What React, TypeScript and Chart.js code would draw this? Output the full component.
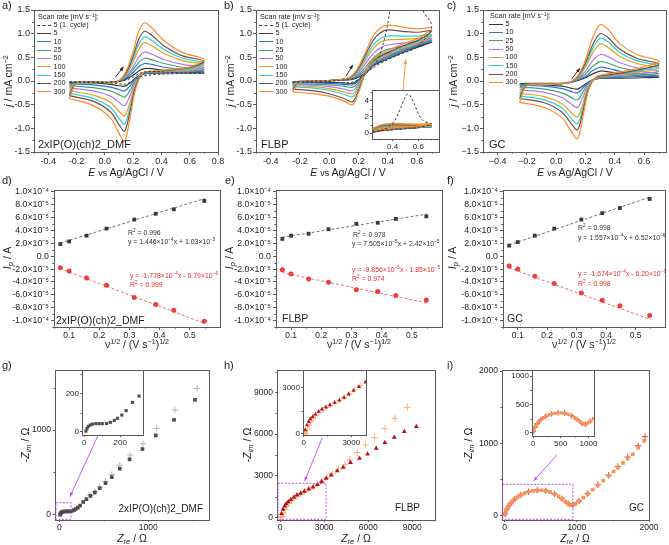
import React, { useEffect, useRef } from "react";
import { Chart, registerables } from "chart.js";

Chart.register(...registerables);

const FONT = "'Liberation Sans', Arial, Helvetica, sans-serif";
const AXIS = "#5a5a5a";
const TXT = "#1e1e1e";
const RED = "#ee2b2b";
const MAGENTA = "#c04cf0";
const PAD_T = 8;
const PAD_R = 14;

// ---------------- CV data (rows: 5,10,25,50,100,150,200,300 mV/s) ----------------
const RATES = ["5", "10", "25", "50", "100", "150", "200", "300"];
const CV_COLORS = ["#3a3a3a", "#2d6fd6", "#3aa86e", "#b676ee", "#dfa21c", "#2fd0d0", "#6f4d50", "#ff8a2a"];

const aFwdE = [-0.25, -0.2, -0.05, 0.05, 0.1, 0.15, 0.2, 0.24, 0.28, 0.33, 0.42, 0.55, 0.7];
const aRevE = [0.6, 0.45, 0.33, 0.27, 0.22, 0.18, 0.14, 0.1, 0.04, -0.08, -0.25];
const aFwdJ = [
  [-0.03, -0.03, -0.03, -0.03, -0.01, 0.04, 0.12, 0.21, 0.26, 0.26, 0.22, 0.19, 0.17],
  [-0.06, -0.03, -0.03, -0.03, 0.0, 0.06, 0.18, 0.3, 0.37, 0.35, 0.29, 0.24, 0.21],
  [-0.1, -0.03, -0.03, -0.03, 0.0, 0.08, 0.24, 0.39, 0.48, 0.45, 0.37, 0.29, 0.25],
  [-0.15, -0.04, -0.03, -0.03, 0.0, 0.1, 0.3, 0.5, 0.61, 0.57, 0.45, 0.35, 0.29],
  [-0.21, -0.04, -0.03, -0.03, 0.0, 0.13, 0.4, 0.67, 0.81, 0.75, 0.58, 0.43, 0.34],
  [-0.26, -0.05, -0.03, -0.03, 0.0, 0.15, 0.46, 0.78, 0.93, 0.86, 0.66, 0.48, 0.38],
  [-0.31, -0.05, -0.03, -0.03, 0.0, 0.17, 0.52, 0.88, 1.05, 0.97, 0.74, 0.53, 0.42],
  [-0.37, -0.06, -0.03, -0.03, 0.0, 0.2, 0.62, 1.05, 1.23, 1.13, 0.85, 0.6, 0.46],
];
const aRevJ = [
  [0.17, 0.17, 0.16, 0.14, 0.07, -0.04, -0.11, -0.1, -0.07, -0.04, -0.03],
  [0.19, 0.18, 0.17, 0.15, 0.06, -0.1, -0.21, -0.18, -0.13, -0.08, -0.06],
  [0.2, 0.19, 0.18, 0.16, 0.03, -0.19, -0.34, -0.29, -0.21, -0.14, -0.1],
  [0.22, 0.2, 0.19, 0.17, 0.0, -0.3, -0.52, -0.45, -0.32, -0.21, -0.15],
  [0.24, 0.21, 0.19, 0.17, -0.05, -0.43, -0.74, -0.64, -0.45, -0.3, -0.21],
  [0.26, 0.22, 0.2, 0.17, -0.08, -0.53, -0.91, -0.79, -0.56, -0.37, -0.26],
  [0.28, 0.23, 0.2, 0.17, -0.1, -0.62, -1.06, -0.92, -0.65, -0.43, -0.31],
  [0.3, 0.24, 0.21, 0.17, -0.15, -0.75, -1.27, -1.1, -0.78, -0.52, -0.37],
];
const aCycle1Fwd = [-0.02, -0.02, -0.02, -0.02, -0.01, 0.02, 0.08, 0.15, 0.19, 0.2, 0.19, 0.17, 0.16];
const aCycle1Rev = [0.16, 0.15, 0.13, 0.1, 0.05, -0.02, -0.07, -0.06, -0.04, -0.03, -0.02];

const bFwdE = [-0.25, -0.2, -0.05, 0.08, 0.15, 0.2, 0.25, 0.3, 0.35, 0.4, 0.5, 0.6, 0.7];
const bRevE = [0.62, 0.5, 0.4, 0.3, 0.25, 0.2, 0.16, 0.1, 0.0, -0.1, -0.25];
const bFwdJ = [
  [-0.03, -0.01, 0.0, 0.02, 0.03, 0.08, 0.18, 0.32, 0.44, 0.54, 0.64, 0.73, 0.82],
  [-0.04, -0.01, 0.0, 0.02, 0.04, 0.11, 0.24, 0.4, 0.52, 0.6, 0.68, 0.76, 0.85],
  [-0.06, -0.01, 0.0, 0.03, 0.05, 0.14, 0.3, 0.48, 0.6, 0.67, 0.73, 0.8, 0.87],
  [-0.08, -0.01, 0.0, 0.03, 0.06, 0.18, 0.38, 0.58, 0.7, 0.76, 0.8, 0.84, 0.9],
  [-0.1, -0.02, 0.0, 0.03, 0.07, 0.21, 0.45, 0.68, 0.82, 0.87, 0.88, 0.9, 0.95],
  [-0.12, -0.02, 0.0, 0.03, 0.08, 0.24, 0.5, 0.76, 0.9, 0.95, 0.95, 0.95, 0.98],
  [-0.17, -0.03, 0.0, 0.03, 0.09, 0.27, 0.56, 0.86, 1.02, 1.08, 1.05, 1.03, 1.06],
  [-0.23, -0.03, 0.0, 0.03, 0.1, 0.3, 0.62, 0.95, 1.12, 1.18, 1.14, 1.1, 1.12],
];
const bRevJ = [
  [0.73, 0.6, 0.47, 0.32, 0.17, 0.02, -0.05, -0.04, -0.03, -0.03, -0.03],
  [0.76, 0.63, 0.5, 0.34, 0.18, 0.0, -0.08, -0.07, -0.05, -0.04, -0.04],
  [0.78, 0.65, 0.52, 0.36, 0.19, -0.03, -0.13, -0.11, -0.08, -0.07, -0.06],
  [0.8, 0.67, 0.54, 0.38, 0.2, -0.06, -0.2, -0.17, -0.12, -0.09, -0.08],
  [0.83, 0.7, 0.56, 0.4, 0.2, -0.1, -0.27, -0.23, -0.16, -0.12, -0.1],
  [0.85, 0.72, 0.58, 0.41, 0.2, -0.14, -0.33, -0.28, -0.2, -0.15, -0.12],
  [0.88, 0.74, 0.6, 0.43, 0.2, -0.2, -0.44, -0.37, -0.27, -0.21, -0.17],
  [0.92, 0.78, 0.64, 0.46, 0.2, -0.25, -0.5, -0.42, -0.32, -0.27, -0.23],
];
const bCycle1E = [-0.25, -0.05, 0.1, 0.2, 0.28, 0.33, 0.37, 0.41, 0.45, 0.49, 0.52, 0.56, 0.6, 0.64, 0.7, 0.6, 0.5, 0.4, 0.3, 0.22, 0.15, 0.0, -0.25];
const bCycle1J = [-0.02, 0.0, 0.02, 0.08, 0.25, 0.45, 0.8, 1.4, 2.6, 4.2, 4.8, 3.9, 2.4, 1.5, 1.15, 0.72, 0.58, 0.45, 0.28, 0.08, -0.03, -0.02, -0.02];

const cFwdE = [-0.25, -0.2, -0.05, 0.05, 0.1, 0.15, 0.2, 0.25, 0.3, 0.35, 0.43, 0.55, 0.7];
const cRevE = [0.6, 0.45, 0.33, 0.27, 0.22, 0.18, 0.145, 0.1, 0.04, -0.08, -0.25];
const cFwdJ = [
  [-0.06, -0.05, -0.05, -0.05, -0.03, 0.01, 0.07, 0.15, 0.21, 0.2, 0.16, 0.11, 0.08],
  [-0.09, -0.06, -0.06, -0.05, -0.02, 0.03, 0.1, 0.22, 0.29, 0.27, 0.21, 0.15, 0.11],
  [-0.13, -0.07, -0.06, -0.05, -0.02, 0.04, 0.15, 0.31, 0.41, 0.38, 0.29, 0.21, 0.16],
  [-0.19, -0.08, -0.07, -0.05, -0.02, 0.06, 0.21, 0.43, 0.56, 0.52, 0.39, 0.28, 0.21],
  [-0.26, -0.08, -0.07, -0.05, -0.02, 0.08, 0.29, 0.6, 0.78, 0.72, 0.53, 0.37, 0.28],
  [-0.32, -0.09, -0.07, -0.05, -0.02, 0.09, 0.34, 0.69, 0.9, 0.84, 0.61, 0.43, 0.32],
  [-0.37, -0.09, -0.07, -0.05, -0.02, 0.1, 0.38, 0.77, 1.0, 0.93, 0.68, 0.48, 0.36],
  [-0.45, -0.1, -0.07, -0.05, -0.02, 0.12, 0.45, 0.92, 1.19, 1.1, 0.8, 0.56, 0.42],
];
const cRevJ = [
  [0.07, 0.06, 0.06, 0.04, -0.02, -0.11, -0.17, -0.15, -0.11, -0.08, -0.06],
  [0.1, 0.08, 0.07, 0.05, -0.03, -0.16, -0.25, -0.22, -0.16, -0.11, -0.09],
  [0.13, 0.1, 0.08, 0.05, -0.05, -0.25, -0.4, -0.34, -0.25, -0.17, -0.13],
  [0.16, 0.12, 0.09, 0.06, -0.08, -0.36, -0.56, -0.48, -0.35, -0.24, -0.19],
  [0.2, 0.14, 0.1, 0.06, -0.12, -0.5, -0.76, -0.66, -0.48, -0.33, -0.26],
  [0.23, 0.16, 0.11, 0.07, -0.15, -0.59, -0.9, -0.78, -0.57, -0.4, -0.32],
  [0.26, 0.17, 0.12, 0.07, -0.17, -0.68, -1.03, -0.89, -0.66, -0.46, -0.37],
  [0.3, 0.2, 0.14, 0.08, -0.2, -0.8, -1.22, -1.05, -0.78, -0.56, -0.45],
];

const CV_Y_TICKS = [-1.5, -1.0, -0.5, 0, 0.5, 1.0, 1.5];
const CV_Y_LABELS = ["-1.5", "-1.0", "-0.5", "0.0", "0.5", "1.0", "1.5"];
const CV_Y_LABELS_C = ["−1.5", "−1.0", "−0.5", "0.0", "0.5", "1.0", "1.5"];
const A_X_TICKS = [-0.4, -0.2, 0, 0.2, 0.4, 0.6, 0.8];
const A_X_LABELS = ["-0.4", "-0.2", "0.0", "0.2", "0.4", "0.6", "0.8"];
const BC_X_TICKS = [-0.4, -0.2, 0, 0.2, 0.4, 0.6];
const B_X_LABELS = ["-0.4", "-0.2", "0.0", "0.2", "0.4", "0.6"];
const C_X_LABELS = ["−0.4", "−0.2", "0.0", "0.2", "0.4", "0.6"];

// ---------------- Randles–Sevcik data ----------------
const SQRT_SCAN = [0.071, 0.1, 0.158, 0.224, 0.316, 0.387, 0.447, 0.548];
const dAnodic = [1.9e-5, 2.3e-5, 3.2e-5, 4.3e-5, 5.7e-5, 6.6e-5, 7.3e-5, 8.6e-5];
const dCathodic = [-1.8e-5, -2.3e-5, -3.4e-5, -4.5e-5, -6.4e-5, -7.5e-5, -8.4e-5, -1.01e-4];
const eAnodic = [2.7e-5, 3.2e-5, 3.5e-5, 4.2e-5, 5.05e-5, 5.2e-5, 5.8e-5, 6.2e-5];
const eCathodic = [-2.1e-5, -2.75e-5, -3.55e-5, -4.05e-5, -5.2e-5, -5.5e-5, -6.1e-5, -6.8e-5];
const fAnodic = [1.66e-5, 2.2e-5, 3.2e-5, 4.3e-5, 5.7e-5, 6.7e-5, 7.5e-5, 8.9e-5];
const fCathodic = [-1.5e-5, -2.0e-5, -3.1e-5, -4.25e-5, -5.7e-5, -6.85e-5, -7.7e-5, -9.2e-5];
const FIT_X = [0.07, 0.55];
const dFitAn = [2.04e-5, 8.98e-5];
const dFitCa = [-1.92e-5, -1.046e-4];
const eFitAn = [2.95e-5, 6.55e-5];
const eFitCa = [-2.54e-5, -7.27e-5];
const fFitAn = [1.74e-5, 9.22e-5];
const fFitCa = [-1.79e-5, -9.83e-5];
const IP_TICKS = [-1e-4, -8e-5, -6e-5, -4e-5, -2e-5, 0, 2e-5, 4e-5, 6e-5, 8e-5, 1e-4];
const IP_LABELS = ["-1.0×10⁻⁴", "-8.0×10⁻⁵", "-6.0×10⁻⁵", "-4.0×10⁻⁵", "-2.0×10⁻⁵", "0.0", "2.0×10⁻⁵", "4.0×10⁻⁵", "6.0×10⁻⁵", "8.0×10⁻⁵", "1.0×10⁻⁴"];
const SQRT_TICKS = [0.1, 0.2, 0.3, 0.4, 0.5];
const SQRT_LABELS = ["0.1", "0.2", "0.3", "0.4", "0.5"];

// ---------------- Nyquist data ----------------
const gZre = [9, 15, 22, 33, 45, 64, 82, 100, 124, 145, 167, 185, 209, 233, 269, 305, 350, 400, 455, 520, 590, 680, 790, 935, 1085, 1290, 1525];
const gZim = [3, 17, 28, 35, 40, 42, 42, 42, 43, 49, 59, 70, 87, 110, 153, 186, 225, 265, 315, 375, 445, 545, 655, 776, 937, 1120, 1355];
const gFitZre = [350, 400, 455, 520, 590, 680, 795, 940, 1095, 1300, 1550];
const gFitZim = [230, 275, 330, 395, 475, 585, 705, 840, 1020, 1235, 1490];
const hZre = [100, 210, 315, 420, 565, 735, 945, 1150, 1400, 1655, 1950, 2245, 2540, 2830, 3140, 3480, 3890, 4300, 4800, 5410, 5955, 6545, 7135, 7775, 8455, 9275];
const hZim = [260, 580, 800, 970, 1120, 1275, 1445, 1600, 1730, 1880, 2030, 2180, 2355, 2570, 2810, 3050, 3340, 3600, 3940, 4250, 4560, 4970, 5380, 5760, 6170, 6530];
const hFitZre = [40, 90, 150, 250, 350, 450, 580, 750, 950, 1170, 1420, 1670, 1960, 2260, 2560, 2870, 3200, 3560, 3980, 4420, 4730, 5250, 5820, 6430, 7140, 7820, 8660];
const hFitZim = [10, 20, 60, 300, 560, 780, 990, 1180, 1380, 1560, 1710, 1860, 2020, 2190, 2380, 2600, 2860, 3140, 3480, 3820, 4130, 4660, 5210, 5740, 6410, 7130, 7920];
const iZre = [5, 15, 30, 50, 75, 105, 140, 180, 225, 275, 330, 390, 450, 510, 570, 630, 690, 745, 795, 840, 880, 915, 945, 980, 1030, 1090, 1150, 1220, 1290, 1365, 1440, 1510, 1570, 1640, 1705, 1775, 1850, 1935];
const iZim = [20, 55, 90, 125, 160, 195, 228, 258, 285, 310, 330, 343, 350, 350, 342, 325, 300, 268, 232, 195, 165, 148, 145, 165, 200, 250, 300, 360, 420, 485, 550, 610, 665, 730, 790, 850, 940, 1035];
const iFitZre = [5, 30, 75, 140, 225, 330, 450, 570, 690, 795, 880, 945, 1030, 1150, 1290, 1440, 1570, 1705, 1850, 1945];
const iFitZim = [22, 92, 162, 230, 287, 332, 352, 344, 302, 234, 167, 147, 203, 305, 428, 560, 680, 810, 965, 1092];

// ---------------- helpers ----------------
type Pt = { x: number; y: number };
const zip = (xs: number[], ys: number[]): Pt[] => xs.map((x, i) => ({ x, y: ys[i] }));

interface AxisSpec { min: number; max: number; ticks: number[]; labels: string[]; font: number; tickLen: number; pad: number }
function ax(min: number, max: number, ticks: number[], labels: string[], font: number, tickLen = 3, pad = 1): AxisSpec {
  return { min, max, ticks, labels, font, tickLen, pad };
}
interface Box { x0: number; x1: number; y0: number; y1: number }
interface Arrow { x0: number; y0: number; x1: number; y1: number; color: string }
interface Deco { boxes?: Box[]; arrows?: Arrow[]; fill?: boolean }
interface PlotSpec { rect: [number, number, number, number]; yW: number; xH: number; x: AxisSpec; y: AxisSpec; sets: () => any[]; deco?: Deco }

function cvSets(fe: number[], fj: number[][], re: number[], rj: number[][], lw: number, cycle?: Pt[]) {
  const sets: any[] = RATES.map((r, i) => ({
    label: r,
    data: [...zip(fe, fj[i]), ...zip(re, rj[i])],
    borderColor: CV_COLORS[i],
    borderWidth: lw,
    showLine: true,
    pointRadius: 0,
    tension: 0.35,
    fill: false,
  })).reverse();
  if (cycle) {
    sets.unshift({ label: "5 (1. cycle)", data: cycle, borderColor: "#404040", borderWidth: 1, borderDash: [2.5, 2], showLine: true, pointRadius: 0, tension: 0.35, fill: false });
  }
  return sets;
}

function rsSets(an: number[], ca: number[], fitAn: number[], fitCa: number[]) {
  return [
    { data: zip(SQRT_SCAN, an), pointStyle: "rect", pointRadius: 2.7, backgroundColor: "#3a3a3a", borderColor: "#3a3a3a", borderWidth: 0 },
    { data: zip(SQRT_SCAN, ca), pointStyle: "circle", pointRadius: 2.5, backgroundColor: "#f23a3a", borderColor: "#f23a3a", borderWidth: 0 },
    { data: zip(FIT_X, fitAn), showLine: true, pointRadius: 0, borderColor: "#777", borderWidth: 1, borderDash: [3, 2] },
    { data: zip(FIT_X, fitCa), showLine: true, pointRadius: 0, borderColor: "#f26a6a", borderWidth: 1, borderDash: [3, 2] },
  ];
}

function nySets(meas: Pt[], fit: Pt[], measStyle: string, measColor: string, fitColor: string, r: number) {
  return [
    { data: meas, pointStyle: measStyle, pointRadius: r, borderColor: measColor, backgroundColor: measColor, borderWidth: 0 },
    { data: fit, pointStyle: "cross", pointRadius: r + 0.6, borderColor: fitColor, backgroundColor: fitColor, borderWidth: 1 },
  ];
}

function axisOptions(a: AxisSpec, horizontal: boolean, size: number) {
  return {
    type: "linear",
    position: horizontal ? "bottom" : "left",
    min: a.min,
    max: a.max,
    grid: { display: true, drawOnChartArea: false, drawTicks: true, tickLength: a.tickLen, color: AXIS, lineWidth: 1 },
    border: { display: true, color: AXIS, width: 1 },
    ticks: {
      autoSkip: false,
      maxRotation: 0,
      minRotation: 0,
      padding: a.pad,
      color: TXT,
      font: { family: FONT, size: a.font },
      callback: (_v: any, i: number) => a.labels[i],
    },
    afterBuildTicks: (s: any) => {
      s.ticks = a.ticks.map((v) => ({ value: v }));
    },
    afterFit: (s: any) => {
      if (horizontal) s.height = size;
      else s.width = size;
    },
  };
}

function drawMinor(ctx: CanvasRenderingContext2D, s: any, horizontal: boolean, len: number, area: any) {
  const t: number[] = s.ticks.map((k: any) => k.value);
  if (t.length < 2) return;
  const step = t[1] - t[0];
  const vals: number[] = [];
  for (let i = 0; i < t.length - 1; i++) vals.push((t[i] + t[i + 1]) / 2);
  if (t[0] - step / 2 >= s.min) vals.push(t[0] - step / 2);
  if (t[t.length - 1] + step / 2 <= s.max) vals.push(t[t.length - 1] + step / 2);
  ctx.beginPath();
  for (const v of vals) {
    const p = Math.round(s.getPixelForValue(v)) + 0.5;
    if (horizontal) {
      ctx.moveTo(p, area.bottom);
      ctx.lineTo(p, area.bottom + len);
    } else {
      ctx.moveTo(area.left, p);
      ctx.lineTo(area.left - len, p);
    }
  }
  ctx.stroke();
}

function drawArrow(ctx: CanvasRenderingContext2D, x0: number, y0: number, x1: number, y1: number, color: string) {
  ctx.strokeStyle = color;
  ctx.fillStyle = color;
  ctx.lineWidth = 0.9;
  ctx.setLineDash([]);
  ctx.beginPath();
  ctx.moveTo(x0, y0);
  ctx.lineTo(x1, y1);
  ctx.stroke();
  const ang = Math.atan2(y1 - y0, x1 - x0);
  const h = 4.5;
  ctx.beginPath();
  ctx.moveTo(x1, y1);
  ctx.lineTo(x1 - h * Math.cos(ang - 0.4), y1 - h * Math.sin(ang - 0.4));
  ctx.lineTo(x1 - h * Math.cos(ang + 0.4), y1 - h * Math.sin(ang + 0.4));
  ctx.closePath();
  ctx.fill();
}

function makePlugin(spec: PlotSpec) {
  const deco = spec.deco || {};
  return {
    id: "deco",
    beforeDraw(chart: any) {
      if (!deco.fill) return;
      const { ctx, chartArea: a } = chart;
      ctx.save();
      ctx.fillStyle = "#ffffff";
      ctx.fillRect(a.left, a.top, a.right - a.left, a.bottom - a.top);
      ctx.restore();
    },
    afterDraw(chart: any) {
      const { ctx, chartArea: a, scales } = chart;
      const xs = scales.x;
      const ys = scales.y;
      ctx.save();
      ctx.strokeStyle = AXIS;
      ctx.lineWidth = 1;
      ctx.strokeRect(Math.round(a.left) + 0.5, Math.round(a.top) + 0.5, Math.round(a.right - a.left), Math.round(a.bottom - a.top));
      drawMinor(ctx, xs, true, Math.max(1.5, spec.x.tickLen * 0.55), a);
      drawMinor(ctx, ys, false, Math.max(1.5, spec.y.tickLen * 0.55), a);
      for (const b of deco.boxes || []) {
        ctx.strokeStyle = MAGENTA;
        ctx.lineWidth = 1;
        ctx.setLineDash([2, 1.5]);
        const px0 = xs.getPixelForValue(b.x0);
        const px1 = xs.getPixelForValue(b.x1);
        const py0 = ys.getPixelForValue(b.y0);
        const py1 = ys.getPixelForValue(b.y1);
        ctx.strokeRect(px0, py1, px1 - px0, py0 - py1);
      }
      for (const r of deco.arrows || []) {
        drawArrow(ctx, xs.getPixelForValue(r.x0), ys.getPixelForValue(r.y0), xs.getPixelForValue(r.x1), ys.getPixelForValue(r.y1), r.color);
      }
      ctx.restore();
    },
  };
}

function Plot({ spec }: { spec: PlotSpec }) {
  const ref = useRef<HTMLCanvasElement>(null);
  const [L, T, R, B] = spec.rect;
  const w = R - L + spec.yW + PAD_R;
  const h = B - T + PAD_T + spec.xH;
  useEffect(() => {
    const cfg: any = {
      type: "scatter",
      data: { datasets: spec.sets() },
      options: {
        responsive: false,
        maintainAspectRatio: false,
        animation: false,
        devicePixelRatio: 1,
        events: [],
        layout: { padding: { top: PAD_T, right: PAD_R, left: 0, bottom: 0 } },
        plugins: { legend: { display: false }, tooltip: { enabled: false }, title: { display: false } },
        scales: { x: axisOptions(spec.x, true, spec.xH), y: axisOptions(spec.y, false, spec.yW) },
      },
      plugins: [makePlugin(spec)],
    };
    const chart = new Chart(ref.current as HTMLCanvasElement, cfg);
    return () => chart.destroy();
  }, []);
  return <canvas ref={ref} width={w} height={h} style={{ position: "absolute", left: L - spec.yW, top: T - PAD_T, width: w, height: h }} />;
}

// ---------------- plot specs ----------------
const cycleA = [...zip(aFwdE, aCycle1Fwd), ...zip(aRevE, aCycle1Rev)];
const cycleB = zip(bCycle1E, bCycle1J);

const SPECS: PlotSpec[] = [
  {
    rect: [34, 10, 218, 152], yW: 34, xH: 20,
    x: ax(-0.5, 0.8, A_X_TICKS, A_X_LABELS, 9, 3, 1), y: ax(-1.5, 1.5, CV_Y_TICKS, CV_Y_LABELS, 9, 3, 1),
    sets: () => cvSets(aFwdE, aFwdJ, aRevE, aRevJ, 1.2, cycleA),
    deco: { arrows: [{ x0: 0.075, y0: 0.08, x1: 0.132, y1: 0.3, color: "#222" }] },
  },
  {
    rect: [256, 10, 439, 152], yW: 34, xH: 20,
    x: ax(-0.5, 0.75, BC_X_TICKS, B_X_LABELS, 9, 3, 1), y: ax(-1.5, 1.5, CV_Y_TICKS, CV_Y_LABELS, 9, 3, 1),
    sets: () => cvSets(bFwdE, bFwdJ, bRevE, bRevJ, 1.2, cycleB),
    deco: {
      arrows: [
        { x0: 0.115, y0: 0.1, x1: 0.161, y1: 0.34, color: "#222" },
        { x0: 0.505, y0: -0.19, x1: 0.522, y1: 0.45, color: "#ff8a2a" },
      ],
    },
  },
  {
    rect: [483, 10, 666, 152], yW: 34, xH: 20,
    x: ax(-0.5, 0.75, BC_X_TICKS, C_X_LABELS, 9, 3, 1), y: ax(-1.5, 1.5, CV_Y_TICKS, CV_Y_LABELS_C, 9, 3, 1),
    sets: () => cvSets(cFwdE, cFwdJ, cRevE, cRevJ, 1.2),
    deco: { arrows: [{ x0: 0.105, y0: 0.04, x1: 0.162, y1: 0.27, color: "#222" }] },
  },
  {
    rect: [54, 190, 220, 327], yW: 50, xH: 16,
    x: ax(0.05, 0.6, SQRT_TICKS, SQRT_LABELS, 8.5, 3, 1), y: ax(-1.1e-4, 1.03e-4, IP_TICKS, IP_LABELS, 8.8, 3, 2),
    sets: () => rsSets(dAnodic, dCathodic, dFitAn, dFitCa),
  },
  {
    rect: [276, 190, 442, 327], yW: 50, xH: 16,
    x: ax(0.05, 0.6, SQRT_TICKS, SQRT_LABELS, 8.5, 3, 1), y: ax(-1.1e-4, 1.03e-4, IP_TICKS, IP_LABELS, 8.8, 3, 2),
    sets: () => rsSets(eAnodic, eCathodic, eFitAn, eFitCa),
  },
  {
    rect: [503, 190, 665, 327], yW: 50, xH: 16,
    x: ax(0.05, 0.6, SQRT_TICKS, SQRT_LABELS, 8.5, 3, 1), y: ax(-1.1e-4, 1.03e-4, IP_TICKS, IP_LABELS, 8.8, 3, 2),
    sets: () => rsSets(fAnodic, fCathodic, fFitAn, fFitCa),
  },
  {
    rect: [55, 370, 209, 520], yW: 30, xH: 16,
    x: ax(-48, 1683, [0, 1000], ["0", "1000"], 8.5, 2, 1), y: ax(-59, 1706, [0, 1000], ["0", "1000"], 8.5, 2, 2),
    sets: () => nySets(zip(gZre, gZim), zip(gFitZre, gFitZim), "rect", "#4d4d4d", "#b5b5b5", 2.6),
    deco: {
      boxes: [{ x0: -37, x1: 131, y0: -51, y1: 145 }],
      arrows: [{ x0: 438, y0: 941, x1: 120, y1: 216, color: MAGENTA }],
    },
  },
  {
    rect: [277, 370, 435, 520], yW: 30, xH: 16,
    x: ax(-205, 10545, [0, 3000, 6000, 9000], ["0", "3000", "6000", "9000"], 8.5, 2, 1),
    y: ax(-192, 10610, [0, 3000, 6000, 9000], ["0", "3000", "6000", "9000"], 8.5, 2, 2),
    sets: () => nySets(zip(hZre, hZim), zip(hFitZre, hFitZim), "triangle", "#b3121b", "#f6b27a", 2.8),
    deco: {
      boxes: [{ x0: -136, x1: 3136, y0: -144, y1: 2448 }],
      arrows: [{ x0: 2864, y0: 5700, x1: 1682, y1: 2616, color: MAGENTA }],
    },
  },
  {
    rect: [502, 370, 649, 520], yW: 30, xH: 16,
    x: ax(-37, 2000, [0, 1000, 2000], ["0", "1000", "2000"], 8.5, 2, 1),
    y: ax(-60, 2014, [0, 1000, 2000], ["0", "1000", "2000"], 8.5, 2, 2),
    sets: () => nySets(zip(iZre, iZim), zip(iFitZre, iFitZim), "rect", "#f4915a", "#e8453c", 2.6),
    deco: {
      boxes: [{ x0: -28, x1: 945, y0: -51, y1: 433 }],
      arrows: [{ x0: 723, y0: 839, x1: 401, y1: 479, color: MAGENTA }],
    },
  },
  // insets
  {
    rect: [372, 90, 439, 139], yW: 12, xH: 14,
    x: ax(0.24, 0.76, [0.4, 0.6], ["0.4", "0.6"], 8, 2, 1), y: ax(-0.7, 5.3, [0, 2, 4], ["0", "2", "4"], 8, 2, 1),
    sets: () => cvSets(bFwdE, bFwdJ, bRevE, bRevJ, 1.6, cycleB),
    deco: { fill: true },
  },
  {
    rect: [82, 370, 143, 435], yW: 24, xH: 14,
    x: ax(-13, 327, [0, 200], ["0", "200"], 8, 2, 1), y: ax(-17, 322, [0, 200], ["0", "200"], 8, 2, 1),
    sets: () => nySets(zip(gZre, gZim), zip(gFitZre, gFitZim), "rect", "#4d4d4d", "#b5b5b5", 2.2),
    deco: { fill: true },
  },
  {
    rect: [303, 370, 366, 435], yW: 26, xH: 14,
    x: ax(-40, 3925, [0, 3000], ["0", "3000"], 8, 2, 1), y: ax(-65, 4140, [0, 3000], ["0", "3000"], 8, 2, 1),
    sets: () => nySets(zip(hZre, hZim), zip(hFitZre, hFitZim), "triangle", "#b3121b", "#f6b27a", 2.4),
    deco: { fill: true },
  },
  {
    rect: [532, 370, 594, 436], yW: 26, xH: 14,
    x: ax(-20, 1100, [0, 500, 1000], ["0", "500", "1000"], 8, 2, 1), y: ax(-60, 1110, [0, 500, 1000], ["0", "500", "1000"], 8, 2, 1),
    sets: () => nySets(zip(iZre, iZim), zip(iFitZre, iFitZim), "rect", "#f4915a", "#e8453c", 2.2),
    deco: { fill: true },
  },
];

// ---------------- text overlays ----------------
const SUP: React.CSSProperties = { fontSize: "0.68em", verticalAlign: "0.5em", lineHeight: 0 };
const SUB: React.CSSProperties = { fontSize: "0.72em", verticalAlign: "-0.3em", lineHeight: 0 };

function Lbl(props: { x: number; y: number; size?: number; align?: "left" | "center" | "right"; color?: string; rot?: boolean; children: React.ReactNode }) {
  const { x, y, size = 10, align = "left", color = TXT, rot = false, children } = props;
  const tx = align === "center" ? "-50%" : align === "right" ? "-100%" : "0";
  return (
    <div
      style={{
        position: "absolute", left: x, top: y, fontFamily: FONT, fontSize: size, color, lineHeight: 1, whiteSpace: "nowrap",
        transform: rot ? "translate(-50%,-50%) rotate(-90deg)" : `translate(${tx},-50%)`,
      }}
    >
      {children}
    </div>
  );
}

function CvLegend({ x, y, cycle }: { x: number; y: number; cycle: boolean }) {
  const ROW = 8.35;
  const items = [
    ...(cycle ? [{ label: "5 (1. cycle)", color: "#404040", dash: true }] : []),
    ...RATES.map((r, i) => ({ label: r, color: CV_COLORS[i], dash: false })),
  ];
  return (
    <div style={{ position: "absolute", left: x, top: y, fontFamily: FONT, fontSize: 7.2, color: TXT, lineHeight: `${ROW}px` }}>
      <div style={{ height: ROW, whiteSpace: "nowrap", paddingLeft: 1 }}>
        Scan rate [mV s<sup style={SUP}>−1</sup>]:
      </div>
      {items.map((it) => (
        <div key={it.label} style={{ height: ROW, display: "flex", alignItems: "center", whiteSpace: "nowrap" }}>
          <span style={{ display: "inline-block", width: 14, height: 0, borderTop: `${it.dash ? 1 : 1.6}px ${it.dash ? "dashed" : "solid"} ${it.color}`, marginRight: 2.5 }} />
          <span>{it.label}</span>
        </div>
      ))}
    </div>
  );
}

const CvXTitle = ({ x }: { x: number }) => (
  <Lbl x={x} y={172} size={10.5} align="center"><i>E</i> <span style={{ fontSize: "0.85em" }}>vs</span> Ag/AgCl / V</Lbl>
);
const CvYTitle = ({ x }: { x: number }) => (
  <Lbl x={x} y={81} size={10.5} rot><i>j</i> / mA cm<sup style={SUP}>−2</sup></Lbl>
);
const RsXTitle = ({ x }: { x: number }) => (
  <Lbl x={x} y={344} size={10.5} align="center">ν<sup style={SUP}>1/2</sup> / (V s<sup style={SUP}>−1</sup>)<sup style={SUP}>1/2</sup></Lbl>
);
const RsYTitle = ({ x }: { x: number }) => (
  <Lbl x={x} y={258} size={10.5} rot><i>I</i><sub style={SUB}><i>p</i></sub> / A</Lbl>
);
const NyXTitle = ({ x }: { x: number }) => (
  <Lbl x={x} y={538} size={10.5} align="center"><i>Z</i><sub style={SUB}><i>re</i></sub> / Ω</Lbl>
);
const NyYTitle = ({ x }: { x: number }) => (
  <Lbl x={x} y={445} size={10.5} rot>-<i>Z</i><sub style={SUB}><i>im</i></sub> / Ω</Lbl>
);

function Eq({ x, y, color, a, b, sa, sb, neg }: { x: number; y: number; color: string; a: string; b: string; sa: string; sb: string; neg?: boolean }) {
  return (
    <Lbl x={x} y={y} size={6.9} color={color}>
      y = {neg ? "-" : ""}{a}×10<sup style={SUP}>{sa}</sup>x {neg ? "-" : "+"} {b}×10<sup style={SUP}>{sb}</sup>
    </Lbl>
  );
}
const R2 = ({ x, y, color, v }: { x: number; y: number; color: string; v: string }) => (
  <Lbl x={x} y={y} size={6.9} color={color}>R<sup style={SUP}>2</sup> = {v}</Lbl>
);

export default function App() {
  return (
    <div style={{ position: "absolute", left: 0, top: 0, width: 669, height: 545, background: "#ffffff", overflow: "hidden" }}>
      {SPECS.map((s, i) => (
        <Plot key={i} spec={s} />
      ))}

      {/* panel letters */}
      <Lbl x={2} y={5} size={11}>a)</Lbl>
      <Lbl x={224} y={5} size={11}>b)</Lbl>
      <Lbl x={447} y={5} size={11}>c)</Lbl>
      <Lbl x={2} y={180} size={11}>d)</Lbl>
      <Lbl x={225} y={180} size={11}>e)</Lbl>
      <Lbl x={447} y={180} size={11}>f)</Lbl>
      <Lbl x={2} y={365} size={11}>g)</Lbl>
      <Lbl x={224} y={365} size={11}>h)</Lbl>
      <Lbl x={447} y={365} size={11}>i)</Lbl>

      {/* row 1 */}
      <CvLegend x={37} y={12.5} cycle />
      <CvLegend x={259} y={12.5} cycle />
      <CvLegend x={489} y={11.5} cycle={false} />
      <Lbl x={38} y={143.5} size={11}>2xIP(O)(ch)2_DMF</Lbl>
      <Lbl x={261} y={144} size={11}>FLBP</Lbl>
      <Lbl x={489} y={144} size={11}>GC</Lbl>
      <CvXTitle x={126} />
      <CvXTitle x={348} />
      <CvXTitle x={575} />
      <CvYTitle x={8} />
      <CvYTitle x={230} />
      <CvYTitle x={453} />

      {/* row 2 */}
      <R2 x={128} y={232.7} color="#333" v="0.996" />
      <Eq x={128} y={241.7} color="#333" a="1.446" sa="−4" b="1.03" sb="−5" />
      <Eq x={130} y={275.7} color={RED} a="1.778" sa="−4" b="6.79" sb="−6" neg />
      <R2 x={130} y={285} color={RED} v="0.999" />
      <R2 x={353} y={235} color="#333" v="0.978" />
      <Eq x={352} y={244.3} color="#333" a="7.505" sa="−5" b="2.42" sb="−5" />
      <Eq x={352} y={270} color={RED} a="9.856" sa="−5" b="1.85" sb="−5" neg />
      <R2 x={352} y={279} color={RED} v="0.974" />
      <R2 x={578} y={228} color="#333" v="0.998" />
      <Eq x={578} y={238} color="#333" a="1.557" sa="−4" b="6.52" sb="−6" />
      <Eq x={578} y={274} color={RED} a="1.674" sa="−4" b="6.20" sb="−6" neg />
      <R2 x={578} y={284} color={RED} v="0.998" />
      <Lbl x={56} y={320} size={10.5}>2xIP(O)(ch)2_DMF</Lbl>
      <Lbl x={282} y={318} size={10.5}>FLBP</Lbl>
      <Lbl x={507} y={318} size={10.5}>GC</Lbl>
      <RsXTitle x={137} />
      <RsXTitle x={359} />
      <RsXTitle x={584} />
      <RsYTitle x={7} />
      <RsYTitle x={229} />
      <RsYTitle x={452} />

      {/* row 3 */}
      <Lbl x={203} y={509} size={10} align="right">2xIP(O)(ch)2_DMF</Lbl>
      <Lbl x={420} y={508} size={10} align="right">FLBP</Lbl>
      <Lbl x={644} y={508} size={10} align="right">GC</Lbl>
      <NyXTitle x={132} />
      <NyXTitle x={356} />
      <NyXTitle x={575} />
      <NyYTitle x={25} />
      <NyYTitle x={247} />
      <NyYTitle x={468} />
    </div>
  );
}
